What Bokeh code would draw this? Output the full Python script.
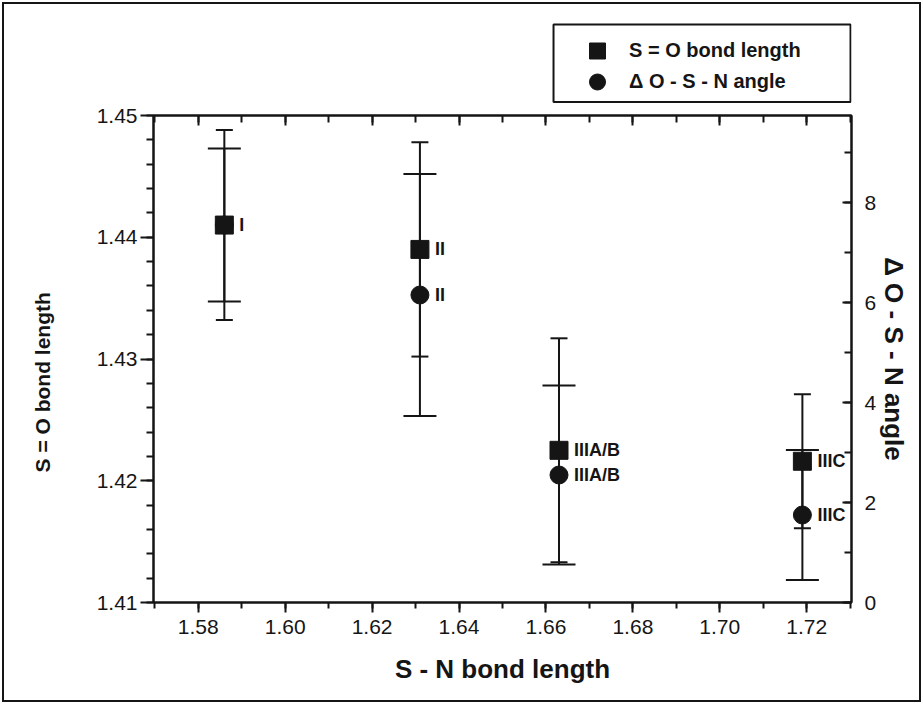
from bokeh.plotting import figure
from bokeh.layouts import column
from bokeh.models import (Range1d, LinearAxis, Whisker, ColumnDataSource, Legend,
                          LegendItem, TeeHead, LabelSet, SingleIntervalTicker,
                          PrintfTickFormatter, BoxAnnotation)
from bokeh.core.properties import value
from bokeh.embed import file_html
from bokeh.resources import INLINE

# ---- data ----
sn_length = [1.586, 1.631, 1.663, 1.719]          # S - N bond length (x)
so_length = [1.4410, 1.4390, 1.4225, 1.4216]      # S = O bond length (left axis)
so_err = [0.0078, 0.0088, 0.0092, 0.0055]
angle = [7.55, 6.15, 2.55, 1.75]                  # delta O-S-N angle (right axis)
angle_err = [1.53, 2.42, 1.79, 1.30]
so_labels = ["I", "II", "IIIA/B", "IIIC"]
angle_labels = ["", "II", "IIIA/B", "IIIC"]
series_names = ["S = O bond length", "\u0394 O - S - N angle"]

x_ticks_interval = 0.02
ink = "#151515"
FONT = "Liberation Sans"
NB = "\u00a0"
INSET = 4     # page border line + gap
TOP_PAD = 12  # room above the plot frame for the top tick label
LG_H = 115 - INSET - TOP_PAD

src = ColumnDataSource(dict(
    x=sn_length,
    so=so_length,
    so_lo=[v - e for v, e in zip(so_length, so_err)],
    so_hi=[v + e for v, e in zip(so_length, so_err)],
    ang=angle,
    ang_lo=[v - e for v, e in zip(angle, angle_err)],
    ang_hi=[v + e for v, e in zip(angle, angle_err)],
    so_lab=so_labels,
    ang_lab=angle_labels,
))

W = 923 - 2 * INSET
# ---------------- legend strip (top) ----------------
lg = figure(width=W, height=LG_H, x_range=Range1d(0, 1), y_range=Range1d(0, 1),
            output_backend="svg", toolbar_location=None, min_border=0)
lg.axis.visible = False
lg.grid.visible = False
lg.outline_line_color = None
lg.background_fill_color = "white"
lg.border_fill_color = "white"
# legend frame box (fractions of the strip)
lg.add_layout(BoxAnnotation(left=0.5731, right=0.9986, bottom=0.015, top=0.798,
                            fill_color="white", fill_alpha=1,
                            line_color=ink, line_width=2, line_alpha=1))
# off-range sample points: only their legend glyphs are seen
lg_sq = lg.scatter(x=[-1], y=[-1], marker="square", size=18, fill_color=ink, line_color=ink)
lg_ci = lg.scatter(x=[-1], y=[-1], marker="circle", size=18, fill_color=ink, line_color=ink)


def legend_row(label, rend, y):
    return Legend(items=[LegendItem(label=label, renderers=[rend])],
                  location=(424, y), margin=0, padding=0, spacing=0,
                  glyph_width=40, glyph_height=45, label_standoff=12,
                  label_height=20, label_text_font=FONT,
                  label_text_font_style="bold", label_text_font_size="20px",
                  label_text_color=ink, border_line_color=None,
                  background_fill_alpha=0)


lg.add_layout(legend_row(series_names[0], lg_sq, 30))
lg.add_layout(legend_row(series_names[1], lg_ci, -1))

# ---------------- main chart ----------------
p = figure(width=W, height=704 - 2 * INSET - LG_H, x_range=Range1d(1.5697, 1.7303),
           y_range=Range1d(1.41, 1.45), output_backend="svg",
           toolbar_location=None, min_border_left=153 - INSET,
           min_border_right=923 - INSET - 851, min_border_top=TOP_PAD,
           min_border_bottom=704 - INSET - 602)
p.extra_y_ranges = {"angle": Range1d(0, 9.74)}
p.grid.visible = False
p.outline_line_color = ink
p.outline_line_width = 2
p.background_fill_color = "white"
p.border_fill_color = "white"


def style_axis(ax):
    ax.axis_line_color = ink
    ax.axis_line_width = 2
    ax.major_tick_line_color = ink
    ax.major_tick_line_width = 2
    ax.minor_tick_line_color = ink
    ax.minor_tick_line_width = 2
    ax.major_label_text_font = FONT
    ax.major_label_text_font_size = "21px"
    ax.major_label_text_color = ink
    ax.axis_label_text_font = FONT
    ax.axis_label_text_font_style = "bold"
    ax.axis_label_text_color = ink


# bottom axis
xa = p.xaxis[0]
xa.ticker = SingleIntervalTicker(interval=x_ticks_interval, num_minor_ticks=2)
xa.formatter = PrintfTickFormatter(format="%.2f")
style_axis(xa)
xa.major_tick_out = 10
xa.major_tick_in = 0
xa.minor_tick_out = 6
xa.minor_tick_in = 0
xa.major_label_standoff = 7
xa.axis_label = "S - N bond length"
xa.axis_label_text_font_size = "26px"
xa.axis_label_standoff = 17

# left axis
ya = p.yaxis[0]
ya.ticker = SingleIntervalTicker(interval=0.01, num_minor_ticks=5)
ya.formatter = PrintfTickFormatter(format="%.2f")
style_axis(ya)
ya.major_tick_out = 13
ya.major_tick_in = 0
ya.minor_tick_out = 7
ya.minor_tick_in = 0
ya.major_label_standoff = 3
ya.axis_label = "S = O bond length" + NB * 8
ya.axis_label_text_font_size = "21px"
ya.axis_label_standoff = 40

# right axis
ra = LinearAxis(y_range_name="angle",
                ticker=SingleIntervalTicker(interval=2, num_minor_ticks=2))
style_axis(ra)
ra.major_tick_in = 9
ra.major_tick_out = 0
ra.minor_tick_in = 7
ra.minor_tick_out = 0
ra.major_label_standoff = 13
ra.axis_label = series_names[1]
ra.axis_label_text_font_size = "26px"
ra.axis_label_standoff = 0
p.add_layout(ra, "right")

# top axis (ticks only, no labels)
ta = LinearAxis(ticker=SingleIntervalTicker(interval=x_ticks_interval, num_minor_ticks=2))
style_axis(ta)
ta.major_tick_in = 10
ta.major_tick_out = 0
ta.minor_tick_in = 7
ta.minor_tick_out = 0
ta.major_label_standoff = 0
ta.major_label_text_font_size = "0px"
ta.major_label_text_color = None
p.add_layout(ta, "above")

# error bars
p.add_layout(Whisker(base="x", lower="ang_lo", upper="ang_hi", source=src,
                     dimension="height", y_range_name="angle",
                     line_color=ink, line_width=2,
                     upper_head=TeeHead(size=33, line_color=ink, line_width=2),
                     lower_head=TeeHead(size=33, line_color=ink, line_width=2)))
p.add_layout(Whisker(base="x", lower="so_lo", upper="so_hi", source=src,
                     dimension="height",
                     line_color=ink, line_width=2,
                     upper_head=TeeHead(size=17, line_color=ink, line_width=2),
                     lower_head=TeeHead(size=17, line_color=ink, line_width=2)))

circ = p.scatter("x", "ang", source=src, marker="circle", size=18,
                 y_range_name="angle", fill_color=ink, line_color=ink)
sq = p.scatter("x", "so", source=src, marker="square", size=18,
               fill_color=ink, line_color=ink)

p.add_layout(LabelSet(x="x", y="so", text="so_lab", source=src, x_offset=15,
                      text_baseline="middle", text_font=value(FONT),
                      text_font_style="bold", text_font_size="18px",
                      text_color=ink))
p.add_layout(LabelSet(x="x", y="ang", text="ang_lab", source=src, x_offset=15,
                      y_range_name="angle", text_baseline="middle",
                      text_font=value(FONT), text_font_style="bold",
                      text_font_size="18px", text_color=ink))

layout = column(lg, p, spacing=0,
                styles={"border": "2px solid #151515", "margin": "2px"})
open("out.html", "w").write(file_html(layout, INLINE))
